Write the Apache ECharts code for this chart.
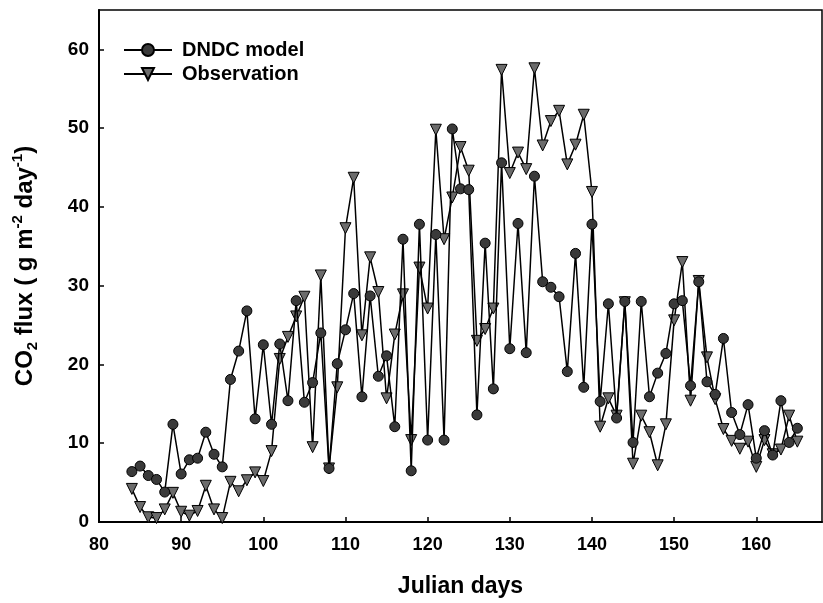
<!DOCTYPE html>
<html lang="en">
<head>
    <meta charset="UTF-8">
    <title>CO2 flux</title>
    <script type="text/javascript" src="https://cdn.jsdelivr.net/npm/echarts@6/dist/echarts.min.js"></script>
    <style>
        body { margin: 0; background: #fff; }
    </style>
</head>
<body>
<div id="main" style="width: 823px; height: 603px;"></div>

<script type="text/javascript">
    // Julian days 84..165
    var days = [84, 85, 86, 87, 88, 89, 90, 91, 92, 93, 94, 95, 96, 97, 98, 99,
        100, 101, 102, 103, 104, 105, 106, 107, 108, 109, 110, 111, 112, 113, 114, 115,
        116, 117, 118, 119, 120, 121, 122, 123, 124, 125, 126, 127, 128, 129, 130, 131,
        132, 133, 134, 135, 136, 137, 138, 139, 140, 141, 142, 143, 144, 145, 146, 147,
        148, 149, 150, 151, 152, 153, 154, 155, 156, 157, 158, 159, 160, 161, 162, 163,
        164, 165];

    // DNDC model
    var modelValues = [6.4, 7.1, 5.9, 5.4, 3.8, 12.4, 6.1, 7.9, 8.1, 11.4, 8.6, 7.0, 18.1, 21.7, 26.8, 13.1,
        22.5, 12.4, 22.6, 15.4, 28.1, 15.2, 17.7, 24.0, 6.8, 20.1, 24.4, 29.0, 15.9, 28.7, 18.5, 21.1,
        12.1, 35.9, 6.5, 37.8, 10.4, 36.5, 10.4, 49.9, 42.3, 42.2, 13.6, 35.4, 16.9, 45.6, 22.0, 37.9,
        21.5, 43.9, 30.5, 29.8, 28.6, 19.1, 34.1, 17.1, 37.8, 15.3, 27.7, 13.2, 28.0, 10.1, 28.0, 15.9,
        18.9, 21.4, 27.7, 28.1, 17.3, 30.5, 17.8, 16.2, 23.3, 13.9, 11.1, 14.9, 8.1, 11.6, 8.5, 15.4,
        10.1, 11.9];

    // Observation
    var obsValues = [4.2, 1.9, 0.6, 0.5, 1.6, 3.7, 1.3, 0.8, 1.4, 4.6, 1.6, 0.5, 5.1, 3.9, 5.3, 6.3,
        5.2, 9.0, 20.7, 23.5, 26.1, 28.6, 9.5, 31.3, 6.8, 17.1, 37.3, 43.7, 23.7, 33.6, 29.2, 15.7,
        23.8, 28.9, 10.4, 32.3, 27.1, 49.8, 35.9, 41.2, 47.6, 44.6, 23.0, 24.5, 27.1, 57.4, 44.3, 46.9,
        44.8, 57.6, 47.8, 50.9, 52.2, 45.4, 47.9, 51.7, 41.9, 12.1, 15.7, 13.5, 27.9, 7.4, 13.5, 11.4,
        7.2, 12.4, 25.6, 33.0, 15.4, 30.6, 20.9, 15.6, 11.8, 10.3, 9.3, 10.2, 7.0, 10.4, 8.6, 9.2,
        13.5, 10.2];

    var seriesNames = ['DNDC model', 'Observation'];

    function pairs(vals) {
        var out = [];
        for (var i = 0; i < days.length; i++) {
            out.push([days[i], vals[i]]);
        }
        return out;
    }

    var font = "'Liberation Sans', Arial, sans-serif";
    var chart = echarts.init(document.getElementById('main'));

    chart.setOption({
        animation: false,
        backgroundColor: '#fff',
        grid: {
            left: 99, right: 1, top: 10, bottom: 81,
            show: true, borderColor: '#000', borderWidth: 1.5
        },
        legend: {
            orient: 'vertical',
            left: 118, top: 35,
            itemWidth: 48, itemHeight: 15, itemGap: 4,
            data: seriesNames,
            textStyle: {
                fontFamily: font, fontWeight: 'bold', fontSize: 20, color: '#000',
                padding: [0, 0, 0, 5]
            }
        },
        xAxis: {
            type: 'value',
            min: 80, max: 168, interval: 10,
            name: 'Julian days',
            nameLocation: 'middle',
            nameGap: 53,
            nameTextStyle: { fontFamily: font, fontWeight: 'bold', fontSize: 23, color: '#000' },
            axisLine: { lineStyle: { color: '#000', width: 2 } },
            axisTick: { inside: true, length: 5, lineStyle: { color: '#000', width: 1.5 } },
            axisLabel: {
                showMaxLabel: false, margin: 14,
                fontFamily: font, fontWeight: 'bold', fontSize: 18, color: '#000'
            },
            splitLine: { show: false }
        },
        yAxis: {
            type: 'value',
            min: 0, max: 65, interval: 10,
            name: '{a|CO}{b|2}{a| flux ( g m}{c|-2}{a| day}{c|-1}{a|)}',
            nameLocation: 'middle',
            nameRotate: 90,
            nameGap: 59,
            nameTextStyle: {
                color: '#000',
                rich: {
                    a: { fontFamily: font, fontWeight: 'bold', fontSize: 24, lineHeight: 30, color: '#000' },
                    b: { fontFamily: font, fontWeight: 'bold', fontSize: 15, verticalAlign: 'bottom', color: '#000' },
                    c: { fontFamily: font, fontWeight: 'bold', fontSize: 15, verticalAlign: 'top', color: '#000' }
                }
            },
            axisLine: { show: true, lineStyle: { color: '#000', width: 2 } },
            axisTick: { show: true, inside: true, length: 5, lineStyle: { color: '#000', width: 1.5 } },
            axisLabel: {
                showMaxLabel: false, margin: 10,
                fontFamily: font, fontWeight: 'bold', fontSize: 19, color: '#000'
            },
            splitLine: { show: false }
        },
        series: [{
            name: seriesNames[0],
            type: 'line',
            data: pairs(modelValues),
            symbol: 'circle',
            symbolSize: 10,
            itemStyle: { color: '#3a3a3a', borderColor: '#000', borderWidth: 1 },
            lineStyle: { color: '#000', width: 1.5 },
            z: 3
        }, {
            name: seriesNames[1],
            type: 'line',
            data: pairs(obsValues),
            symbol: 'triangle',
            symbolRotate: 180,
            symbolSize: 11,
            itemStyle: { color: '#6b6b6b', borderColor: '#000', borderWidth: 1 },
            lineStyle: { color: '#000', width: 1.5 },
            z: 2
        }]
    });
</script>
</body>
</html>
